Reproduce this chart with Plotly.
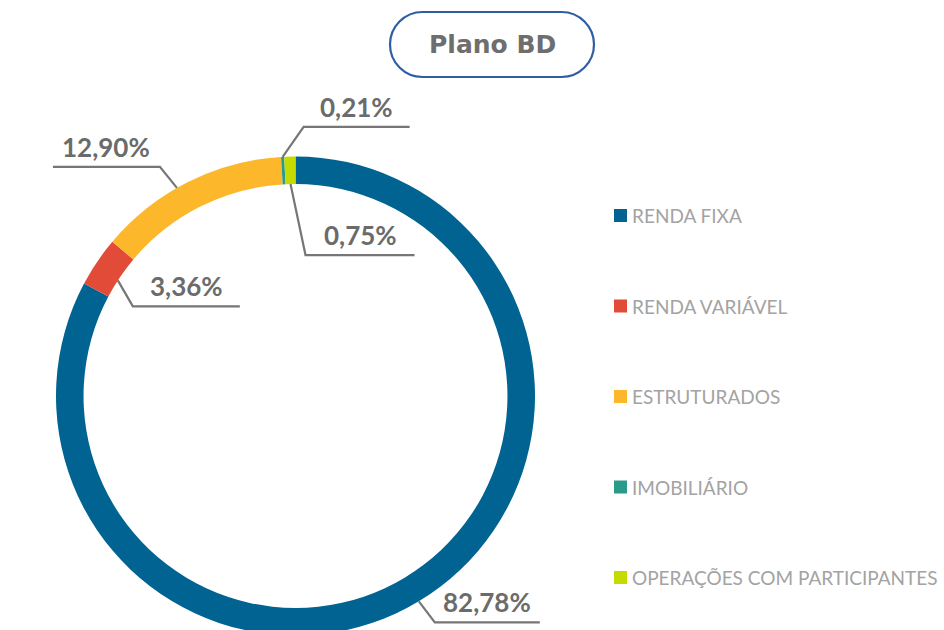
import math
import plotly.graph_objects as go

# ---- data ----
categories = ["RENDA FIXA", "RENDA VARIÁVEL", "ESTRUTURADOS", "IMOBILIÁRIO",
              "OPERAÇÕES COM PARTICIPANTES"]
values = [82.78, 3.36, 12.90, 0.21, 0.75]
value_labels = ["82,78%", "3,36%", "12,90%", "0,21%", "0,75%"]
colors = ["#006392", "#E14B37", "#FDB72B", "#2A9A8B", "#C5DB00"]
title_text = "Plano BD"

# ---- layout parameters (pixels) ----
W, H = 944, 640
CX, CY, R = 295.5, 396, 239.5
HOLE = 0.885
R_IN = R * HOLE
# leader-line style per slice: anchor ring edge, anchor angle tweak (deg),
# elbow offset (dx, dy), horizontal run
leaders = [
    ("outer", 0, 16, 21, 105),
    ("inner", -1, 15, 26, 107),
    ("outer", -3, -17, -21, -107),
    ("outer", 0, 21, -30, 106),
    ("inner", 0, 15, 71, 109),
]
LINE_COLOR = "#767676"
LABEL_COLOR = "#6B6B6B"
LEGEND_TEXT = "#A3A3A3"


def px(x):
    return x / W


def py(y):
    return 1 - y / H


fig = go.Figure()
fig.add_trace(go.Pie(
    labels=categories,
    values=values,
    marker=dict(colors=colors, line=dict(width=0)),
    hole=HOLE,
    sort=False,
    direction="clockwise",
    rotation=0,
    textinfo="none",
    hoverinfo="label+percent",
    showlegend=False,
    domain=dict(x=[px(CX - R), px(CX + R)], y=[py(CY + R), py(CY - R)]),
))

shapes = []
annotations = []

# leader lines + value labels computed from the slice angles
total = sum(values)
cum = 0.0
for v, lab, (edge, tweak, dx, dy, hl) in zip(values, value_labels, leaders):
    mid = (cum + v / 2) / total * 2 * math.pi + math.radians(tweak)
    cum += v
    r = R if edge == "outer" else R_IN
    ax = CX + r * math.sin(mid)
    ay = CY - r * math.cos(mid)
    ex, ey = ax + dx, ay + dy
    hx = ex + hl
    shapes.append(dict(
        type="path", xref="paper", yref="paper",
        path=f"M {px(ax)},{py(ay)} L {px(ex)},{py(ey)} L {px(hx)},{py(ey)}",
        line=dict(color=LINE_COLOR, width=2.2),
    ))
    annotations.append(dict(
        x=px((ex + hx) / 2), y=py(ey - 2), xref="paper", yref="paper",
        text=f"<b>{lab}</b>", showarrow=False, xanchor="center", yanchor="bottom",
        font=dict(family="Lato", size=26, color=LABEL_COLOR),
    ))

# legend drawn as squares + text
LEG_X, LEG_Y0, LEG_DY, SQ = 614, 215.5, 90.5, 13
for i, (c, name) in enumerate(zip(colors, categories)):
    yc = LEG_Y0 + i * LEG_DY
    shapes.append(dict(
        type="rect", xref="paper", yref="paper",
        x0=px(LEG_X), x1=px(LEG_X + SQ), y0=py(yc + SQ / 2), y1=py(yc - SQ / 2),
        fillcolor=c, line=dict(width=0),
    ))
    annotations.append(dict(
        x=px(LEG_X + SQ + 3), y=py(yc), xref="paper", yref="paper",
        text=name, showarrow=False, xanchor="left", yanchor="middle",
        font=dict(family="Lato", size=19, color=LEGEND_TEXT),
    ))

# title pill
bx0, bx1, by0, by1 = 390, 594, 12, 77
rr = (by1 - by0) / 2
k = 0.5523 * rr
ymid = (by0 + by1) / 2
path = (
    f"M {px(bx0 + rr)},{py(by0)} L {px(bx1 - rr)},{py(by0)} "
    f"C {px(bx1 - rr + k)},{py(by0)} {px(bx1)},{py(ymid - k)} {px(bx1)},{py(ymid)} "
    f"C {px(bx1)},{py(ymid + k)} {px(bx1 - rr + k)},{py(by1)} {px(bx1 - rr)},{py(by1)} "
    f"L {px(bx0 + rr)},{py(by1)} "
    f"C {px(bx0 + rr - k)},{py(by1)} {px(bx0)},{py(ymid + k)} {px(bx0)},{py(ymid)} "
    f"C {px(bx0)},{py(ymid - k)} {px(bx0 + rr - k)},{py(by0)} {px(bx0 + rr)},{py(by0)} Z"
)
shapes.append(dict(type="path", xref="paper", yref="paper", path=path,
                   line=dict(color="#2E5EA6", width=2.2), fillcolor="rgba(0,0,0,0)"))
annotations.append(dict(
    x=px((bx0 + bx1) / 2), y=py(ymid), xref="paper", yref="paper",
    text=f"<b>{title_text}</b>", showarrow=False, xanchor="center", yanchor="middle",
    font=dict(family="DejaVu Sans", size=25, color="#6E6E6E"),
))

fig.update_layout(
    width=W, height=H,
    margin=dict(l=0, r=0, t=0, b=0),
    paper_bgcolor="white", plot_bgcolor="white",
    shapes=shapes, annotations=annotations,
    showlegend=False,
)

fig.write_html(
    "out.html",
    config={"displayModeBar": False},
    post_script="document.body.style.margin='0';document.body.style.overflow='hidden';",
)
